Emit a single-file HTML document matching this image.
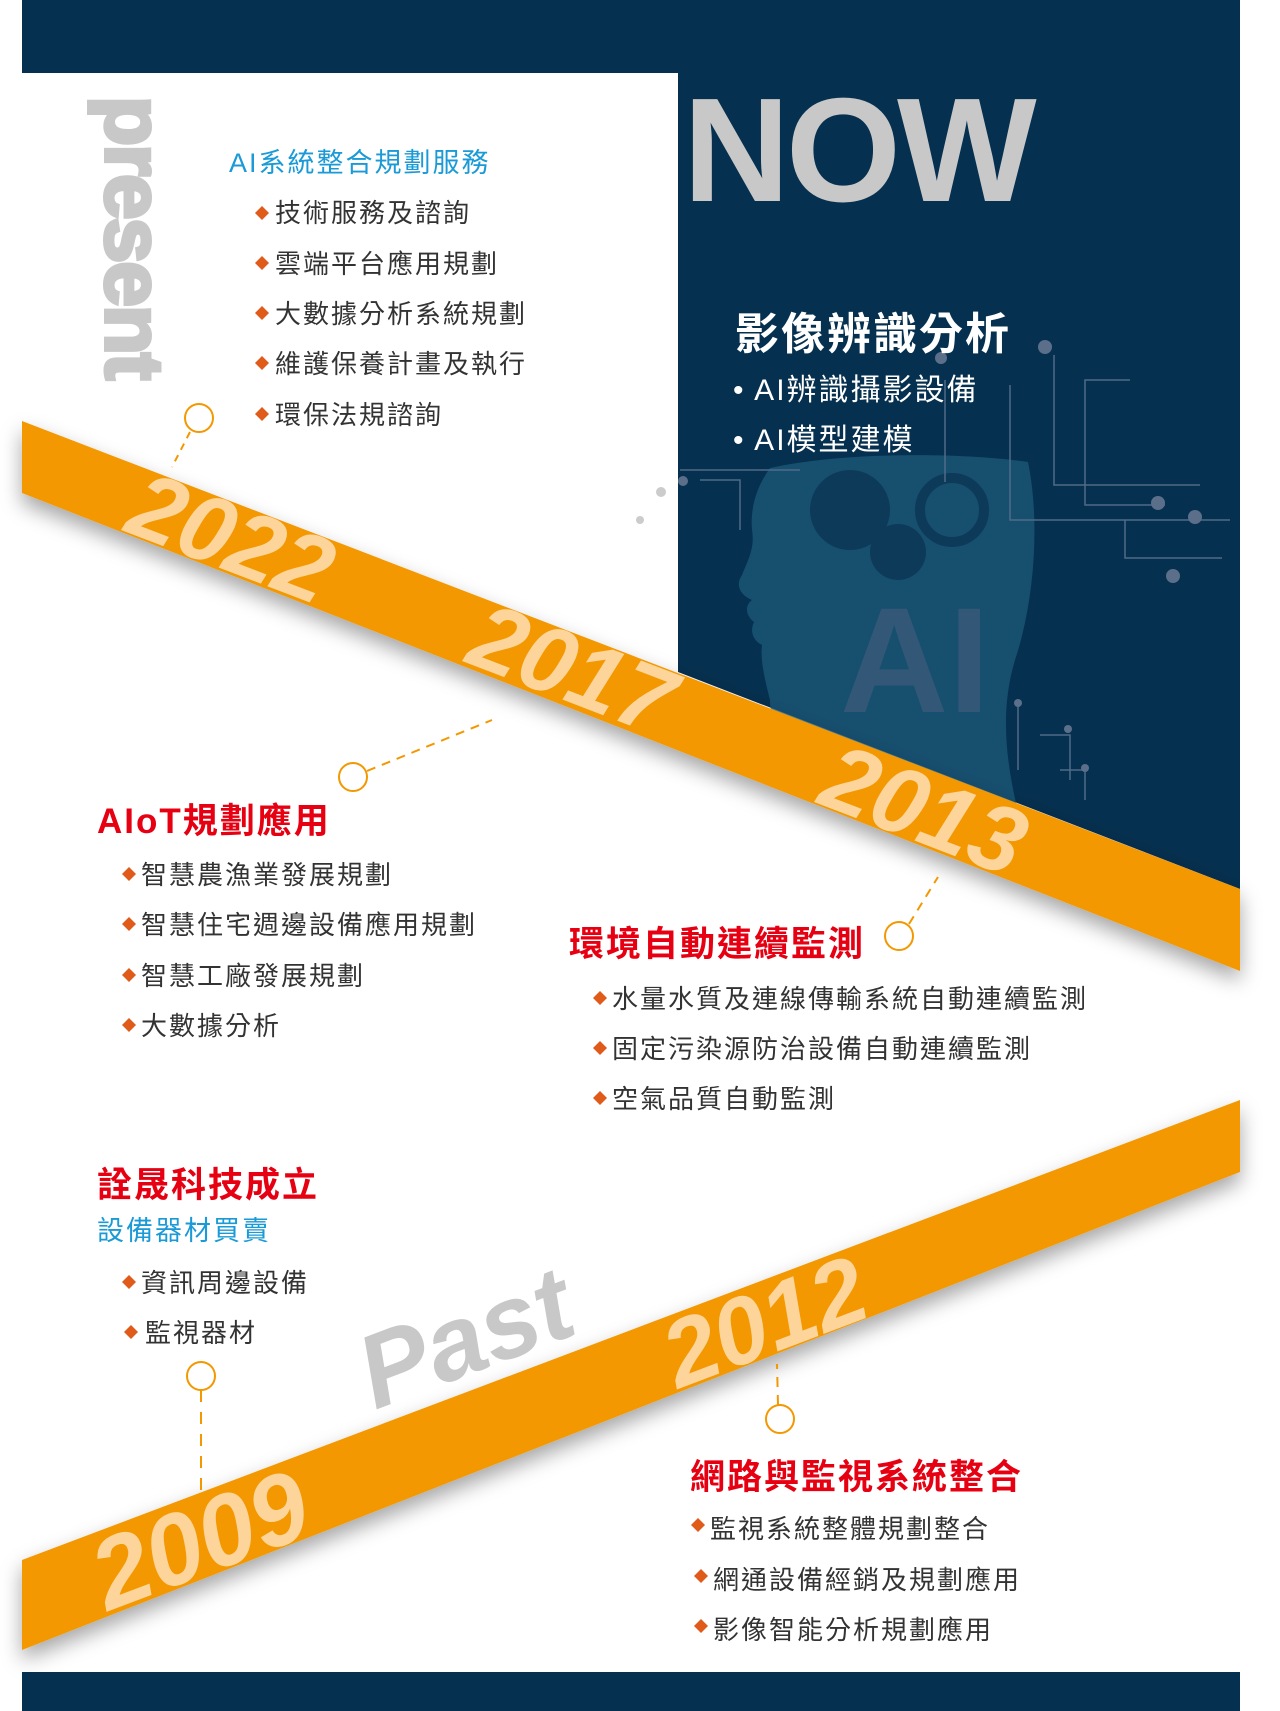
<!DOCTYPE html>
<html><head><meta charset="utf-8"><style>
html,body{margin:0;padding:0;background:#fff;}
svg{display:block;}
text{font-family:"Liberation Sans","Noto Sans CJK TC",sans-serif;}
</style></head><body>
<svg width="1280" height="1711" viewBox="0 0 1280 1711" xmlns="http://www.w3.org/2000/svg">
<defs>
<filter id="sh" x="-10%" y="-30%" width="120%" height="160%"><feDropShadow dx="0" dy="10" stdDeviation="10" flood-color="#000" flood-opacity="0.35"/></filter>
</defs>
<rect x="22" y="0" width="1218" height="73" fill="#06304f"/>
<polygon points="678,73 1240,73 1240,889 678,672" fill="#06304f"/>
<path d="M770,468 C840,452 960,452 1028,462 C1040,520 1035,600 1015,660 C1000,710 1005,760 1020,820 L860,820 C850,770 830,740 800,735 C780,732 770,720 770,700 C765,680 760,660 762,645 C752,640 750,630 754,622 C745,615 745,605 752,600 C740,595 735,585 742,575 C748,560 755,548 752,530 C750,505 758,485 770,468 Z" fill="#1e5a7a" opacity="0.75"/>
<circle cx="850" cy="510" r="40" fill="#0d3a58"/>
<circle cx="898" cy="552" r="28" fill="#0d3a58"/>
<circle cx="952" cy="510" r="32" fill="none" stroke="#0d3a58" stroke-width="10"/>
<text x="915" y="712" font-size="150" font-weight="bold" fill="#3b5a78" opacity="0.8" text-anchor="middle">AI</text>
<g stroke="#4f6b88" stroke-width="1.5" fill="none">
<polyline points="1130,380 1085,380 1085,505 1165,505"/>
<polyline points="1054,355 1054,485 1200,485"/>
<polyline points="1010,385 1010,520 1230,520"/>
<polyline points="1125,520 1125,558 1222,558"/>
<polyline points="945,380 945,482"/>
<polyline points="700,480 740,480 740,530"/>
<polyline points="680,470 800,470"/>
<polyline points="1018,705 1018,770"/>
<polyline points="1040,735 1070,735 1070,780"/>
<polyline points="1060,770 1085,770 1085,800"/>
</g>
<g fill="#5c6f8a">
<circle cx="1158" cy="503" r="7"/><circle cx="1195" cy="517" r="7"/><circle cx="1173" cy="576" r="7"/>
<circle cx="1045" cy="347" r="7"/><circle cx="941" cy="358" r="6"/><circle cx="683" cy="481" r="5"/>
<circle cx="1018" cy="703" r="4"/><circle cx="1068" cy="729" r="4"/><circle cx="1085" cy="768" r="4"/>
</g>
<circle cx="661" cy="492" r="5" fill="#ccc"/><circle cx="640" cy="520" r="4" fill="#ccc"/>
<rect x="22" y="1672" width="1218" height="39" fill="#06304f"/>
<polygon points="22,421 1240,889 1240,971 22,493" fill="#f39800" filter="url(#sh)"/>
<polygon points="22,1560 1240,1100 1240,1172 22,1650" fill="#f39800" filter="url(#sh)"/>
<text x="0" y="0" transform="translate(106,96) rotate(90)" font-size="82" font-weight="bold" fill="#c8c8c8" stroke="#c8c8c8" stroke-width="4" letter-spacing="-2">present</text>
<text x="683" y="201" font-size="148" font-weight="bold" fill="#c8c8c8" letter-spacing="-4">NOW</text>
<text x="0" y="0" transform="translate(375,1410) rotate(-20.7)" font-size="104" font-weight="bold" font-style="italic" fill="#c8c8c8">Past</text>
<g font-size="94" font-weight="bold" font-style="italic" fill="#fdd59a" text-anchor="middle">
<text transform="translate(220,568) rotate(21)">2022</text>
<text transform="translate(561,699) rotate(21)">2017</text>
<text transform="translate(913,840) rotate(21)">2013</text>
<text transform="translate(776,1352) rotate(-20.7)" font-size="94">2012</text>
<text transform="translate(212,1572) rotate(-20.7)" font-size="100">2009</text>
</g>
<g stroke="#f39800" stroke-width="2" fill="none">
<circle cx="199" cy="418" r="14"/>
<line x1="190" y1="432" x2="172" y2="467" stroke-dasharray="7,6"/>
<circle cx="353" cy="777" r="14"/>
<line x1="367" y1="771" x2="492" y2="720" stroke-dasharray="9,7"/>
<circle cx="899" cy="936" r="14"/>
<line x1="909" y1="924" x2="938" y2="877" stroke-dasharray="9,7"/>
<circle cx="201" cy="1376" r="14"/>
<line x1="201" y1="1390" x2="201" y2="1490" stroke-dasharray="12,10"/>
<circle cx="780" cy="1419" r="14"/>
<line x1="778" y1="1405" x2="777" y2="1364" stroke-dasharray="10,8"/>
</g>
<g font-size="26" fill="#333" letter-spacing="2">
<text x="229" y="172" fill="#1a9ad6" font-size="27">AI系統整合規劃服務</text>
<text x="275" y="222">技術服務及諮詢</text>
<text x="275" y="273">雲端平台應用規劃</text>
<text x="275" y="323">大數據分析系統規劃</text>
<text x="275" y="373">維護保養計畫及執行</text>
<text x="275" y="424">環保法規諮詢</text>
<text x="735" y="349" font-size="44" fill="#fff" font-weight="bold">影像辨識分析</text>
<text x="733" y="400" font-size="30" fill="#fff">•  AI辨識攝影設備</text>
<text x="733" y="450" font-size="30" fill="#fff">•  AI模型建模</text>
<text x="97" y="833" font-size="35" fill="#e60012" font-weight="bold">AIoT規劃應用</text>
<text x="141" y="884">智慧農漁業發展規劃</text>
<text x="141" y="934">智慧住宅週邊設備應用規劃</text>
<text x="141" y="985">智慧工廠發展規劃</text>
<text x="141" y="1035">大數據分析</text>
<text x="569" y="956" font-size="35" fill="#e60012" font-weight="bold">環境自動連續監測</text>
<text x="612" y="1008">水量水質及連線傳輸系統自動連續監測</text>
<text x="612" y="1058">固定污染源防治設備自動連續監測</text>
<text x="612" y="1108">空氣品質自動監測</text>
<text x="97" y="1197" font-size="35" fill="#e60012" font-weight="bold">詮晟科技成立</text>
<text x="97" y="1231" font-size="27" fill="#1a9ad6" dy="9">設備器材買賣</text>
<text x="141" y="1292">資訊周邊設備</text>
<text x="145" y="1342">監視器材</text>
<text x="690" y="1489" font-size="35" fill="#e60012" font-weight="bold">網路與監視系統整合</text>
<text x="710" y="1538">監視系統整體規劃整合</text>
<text x="713" y="1589">網通設備經銷及規劃應用</text>
<text x="713" y="1639">影像智能分析規劃應用</text>
</g>
<g fill="#e05a1a">
<path d="M262,206 l7,7 l-7,7 l-7,-7z"/><path d="M262,256 l7,7 l-7,7 l-7,-7z"/><path d="M262,306 l7,7 l-7,7 l-7,-7z"/><path d="M262,356 l7,7 l-7,7 l-7,-7z"/><path d="M262,407 l7,7 l-7,7 l-7,-7z"/>
<path d="M129,867 l7,7 l-7,7 l-7,-7z"/><path d="M129,917 l7,7 l-7,7 l-7,-7z"/><path d="M129,968 l7,7 l-7,7 l-7,-7z"/><path d="M129,1018 l7,7 l-7,7 l-7,-7z"/>
<path d="M600,991 l7,7 l-7,7 l-7,-7z"/><path d="M600,1041 l7,7 l-7,7 l-7,-7z"/><path d="M600,1091 l7,7 l-7,7 l-7,-7z"/>
<path d="M129,1275 l7,7 l-7,7 l-7,-7z"/><path d="M131,1325 l7,7 l-7,7 l-7,-7z"/>
<path d="M698,1518 l7,7 l-7,7 l-7,-7z"/><path d="M701,1569 l7,7 l-7,7 l-7,-7z"/><path d="M701,1619 l7,7 l-7,7 l-7,-7z"/>
</g>
</svg>
</body></html>
